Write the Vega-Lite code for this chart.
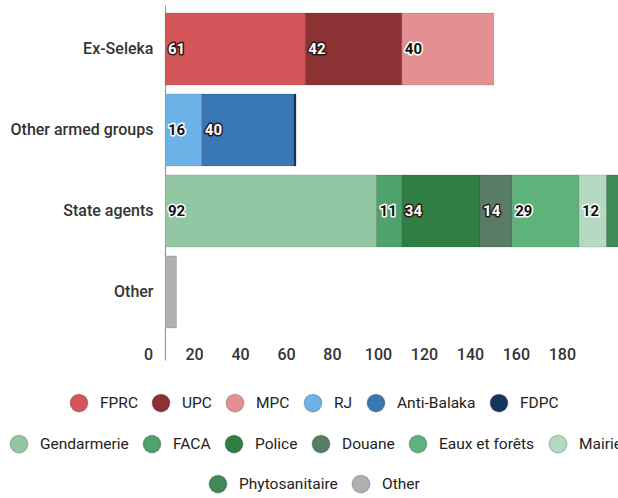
{
  "$schema": "https://vega.github.io/schema/vega-lite/v6.json",
  "width": 453,
  "height": 355,
  "autosize": {"type": "none"},
  "padding": {"left": 165, "top": 5, "right": 0, "bottom": 138},
  "background": "white",
  "config": {
    "font": "Roboto",
    "view": {"stroke": null},
    "legend": {"orient": "none", "direction": "horizontal", "title": null, "symbolType": "circle", "symbolSize": 314, "symbolOpacity": 1, "symbolStrokeWidth": 1.5, "symbolStrokeColor": "rgba(0,0,0,0.18)", "labelOffset": 11, "columnPadding": 11, "labelFontSize": 15.5, "labelColor": "#222222", "labelFont": "Roboto"}
  },
  "data": {"values": [
    {"group": "Ex-Seleka", "series": "FPRC", "value": 61},
    {"group": "Ex-Seleka", "series": "UPC", "value": 42},
    {"group": "Ex-Seleka", "series": "MPC", "value": 40},
    {"group": "Other armed groups", "series": "RJ", "value": 16},
    {"group": "Other armed groups", "series": "Anti-Balaka", "value": 40},
    {"group": "Other armed groups", "series": "FDPC", "value": 1},
    {"group": "State agents", "series": "Gendarmerie", "value": 92},
    {"group": "State agents", "series": "FACA", "value": 11},
    {"group": "State agents", "series": "Police", "value": 34},
    {"group": "State agents", "series": "Douane", "value": 14},
    {"group": "State agents", "series": "Eaux et forêts", "value": 29},
    {"group": "State agents", "series": "Mairie", "value": 12},
    {"group": "State agents", "series": "Phytosanitaire", "value": 15},
    {"group": "Other", "series": "Other", "value": 5}
  ]},
  "transform": [
    {"calculate": "indexof(['FPRC','UPC','MPC','RJ','Anti-Balaka','FDPC','Gendarmerie','FACA','Police','Douane','Eaux et forêts','Mairie','Phytosanitaire','Other'], datum.series)", "as": "ord"},
    {"stack": "value", "groupby": ["group"], "sort": [{"field": "ord", "order": "ascending"}], "as": ["x0", "x1"]}
  ],
  "encoding": {
    "y": {
      "field": "group", "type": "nominal",
      "sort": ["Ex-Seleka", "Other armed groups", "State agents", "Other"],
      "scale": {"paddingInner": 0.11, "paddingOuter": 0.247, "align": 0.2},
      "axis": {"title": null, "domain": true, "domainColor": "#999999", "domainWidth": 1.2, "ticks": false, "labelPadding": 12, "labelFontSize": 16, "labelFontWeight": 500, "labelColor": "#333333", "labelFont": "Roboto"}
    }
  },
  "layer": [
    {
      "transform": [{"filter": {"field": "series", "oneOf": ["FPRC", "UPC", "MPC", "RJ", "Anti-Balaka", "FDPC"]}}],
      "mark": {"type": "bar", "clip": true, "stroke": "rgba(0,0,0,0.12)", "strokeWidth": 1},
      "encoding": {
        "x": {"field": "x0", "type": "quantitative", "scale": {"domain": [0, 197], "nice": false},
          "axis": {"title": null, "values": [0, 20, 40, 60, 80, 100, 120, 140, 160, 180], "domain": false, "ticks": false, "grid": false, "offset": -16, "labelPadding": 2, "labelOffset": -17, "labelFontSize": 16, "labelColor": "#333333", "labelFont": "Roboto", "labelFontWeight": 500, "labelFlush": false}},
        "x2": {"field": "x1"},
        "color": {"field": "series", "type": "nominal",
          "scale": {"domain": ["FPRC", "UPC", "MPC", "RJ", "Anti-Balaka", "FDPC"], "range": ["#d5565a", "#8c3235", "#e39092", "#6db3e8", "#3a77b5", "#16365e"]},
          "legend": {"legendX": -96, "legendY": 388}}
      }
    },
    {
      "transform": [{"filter": {"field": "series", "oneOf": ["Gendarmerie", "FACA", "Police", "Douane", "Eaux et forêts", "Mairie"]}}],
      "mark": {"type": "bar", "clip": true, "stroke": "rgba(0,0,0,0.12)", "strokeWidth": 1},
      "encoding": {
        "x": {"field": "x0", "type": "quantitative"},
        "x2": {"field": "x1"},
        "color": {"field": "series", "type": "nominal",
          "scale": {"domain": ["Gendarmerie", "FACA", "Police", "Douane", "Eaux et forêts", "Mairie"], "range": ["#93c7a3", "#4fa26b", "#2f7f45", "#587c64", "#5db37a", "#b6d9c1"]},
          "legend": {"legendX": -156, "legendY": 429}}
      }
    },
    {
      "transform": [{"filter": {"field": "series", "oneOf": ["Phytosanitaire", "Other"]}}],
      "mark": {"type": "bar", "clip": true, "stroke": "rgba(0,0,0,0.12)", "strokeWidth": 1},
      "encoding": {
        "x": {"field": "x0", "type": "quantitative"},
        "x2": {"field": "x1"},
        "color": {"field": "series", "type": "nominal",
          "scale": {"domain": ["Phytosanitaire", "Other"], "range": ["#3e8a58", "#b0b0b0"]},
          "legend": {"legendX": 43, "legendY": 469}}
      }
    },
    {
      "transform": [{"filter": "datum.value >= 10 && datum.series != 'Phytosanitaire'"}],
      "mark": {"type": "text", "align": "left", "baseline": "middle", "dx": 3, "fontSize": 15, "fontWeight": "bold", "strokeWidth": 3, "strokeJoin": "round", "clip": true, "font": "Roboto"},
      "encoding": {
        "x": {"field": "x0", "type": "quantitative"},
        "text": {"field": "value", "type": "quantitative"},
        "stroke": {"condition": {"test": "indexof(['FPRC','UPC','Anti-Balaka','Police','Douane'], datum.series) >= 0", "value": "#2a1a1a"}, "value": "white"},
        "color": {"value": "white"}
      }
    },
    {
      "transform": [{"filter": "datum.value >= 10 && datum.series != 'Phytosanitaire'"}],
      "mark": {"type": "text", "align": "left", "baseline": "middle", "dx": 3, "fontSize": 15, "fontWeight": "bold", "clip": true, "font": "Roboto"},
      "encoding": {
        "x": {"field": "x0", "type": "quantitative"},
        "text": {"field": "value", "type": "quantitative"},
        "color": {"condition": {"test": "indexof(['FPRC','UPC','Anti-Balaka','Police','Douane'], datum.series) >= 0", "value": "white"}, "value": "#111111"}
      }
    }
  ],
  "resolve": {"scale": {"color": "independent"}}
}
